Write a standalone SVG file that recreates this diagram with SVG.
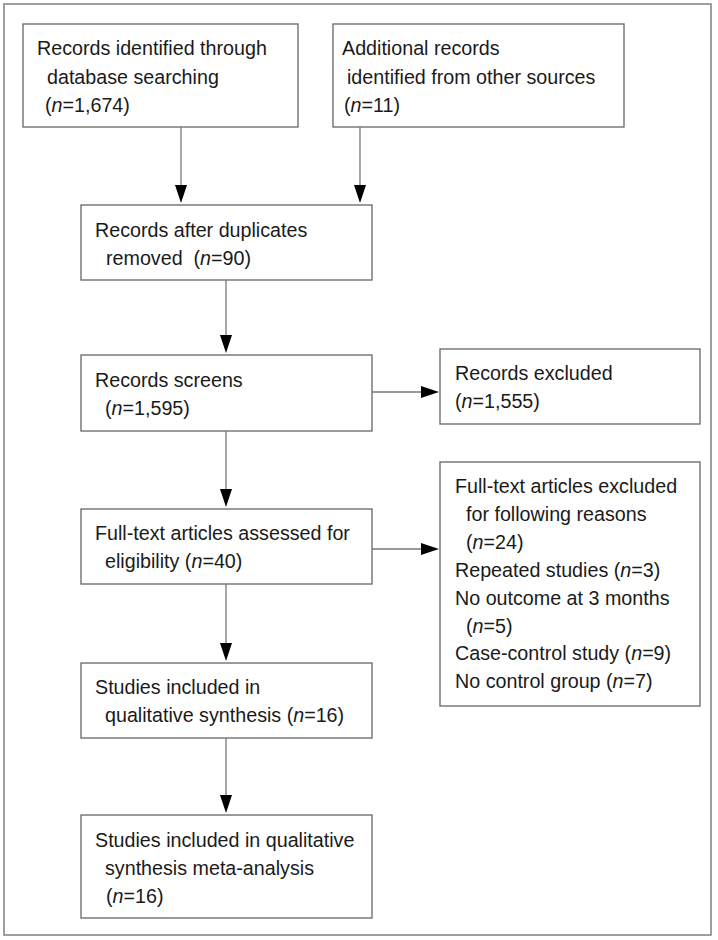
<svg xmlns="http://www.w3.org/2000/svg" width="718" height="940" viewBox="0 0 718 940">
<defs>
<style>
.frame{fill:#fff;stroke:#808080;stroke-width:1.5}
.box{fill:#fff;stroke:#666;stroke-width:1.3}
.t{font-family:"Liberation Sans",Arial,sans-serif;font-size:19.7px;fill:#1a1a1a}
.i{font-style:italic}
.c{stroke:#777;stroke-width:1.3;fill:none}
.ah{fill:#000}
</style>
</defs>
<rect x="4" y="4" width="707" height="931" class="frame"/>
<g id="n1">
<rect x="23" y="24" width="275" height="103" class="box"/>
<text class="t" x="37" y="55">Records identified through</text>
<text class="t" x="47" y="84">database searching</text>
<text class="t" x="45" y="112">(<tspan class="i">n</tspan>=1,674)</text>
</g>
<g id="n2">
<rect x="333" y="24" width="291" height="103" class="box"/>
<text class="t" x="342" y="55">Additional records</text>
<text class="t" x="347" y="84">identified from other sources</text>
<text class="t" x="344" y="112">(<tspan class="i">n</tspan>=11)</text>
</g>
<g id="n3">
<rect x="81" y="205" width="291" height="75" class="box"/>
<text class="t" x="95" y="237">Records after duplicates</text>
<text class="t" x="106" y="265">removed&#160; (<tspan class="i">n</tspan>=90)</text>
</g>
<g id="n4">
<rect x="81" y="355" width="291" height="76" class="box"/>
<text class="t" x="95" y="387">Records screens</text>
<text class="t" x="105" y="415">(<tspan class="i">n</tspan>=1,595)</text>
</g>
<g id="n5">
<rect x="440" y="349" width="260" height="75" class="box"/>
<text class="t" x="455" y="380">Records excluded</text>
<text class="t" x="455" y="408">(<tspan class="i">n</tspan>=1,555)</text>
</g>
<g id="n6">
<rect x="81" y="509" width="291" height="75" class="box"/>
<text class="t" x="95" y="540">Full-text articles assessed for</text>
<text class="t" x="105" y="568">eligibility (<tspan class="i">n</tspan>=40)</text>
</g>
<g id="n7">
<rect x="440" y="462" width="260" height="244" class="box"/>
<text class="t" x="455" y="493">Full-text articles excluded</text>
<text class="t" x="466" y="521">for following reasons</text>
<text class="t" x="466" y="549">(<tspan class="i">n</tspan>=24)</text>
<text class="t" x="455" y="577">Repeated studies (<tspan class="i">n</tspan>=3)</text>
<text class="t" x="455" y="605">No outcome at 3 months</text>
<text class="t" x="466" y="633">(<tspan class="i">n</tspan>=5)</text>
<text class="t" x="455" y="660">Case-control study (<tspan class="i">n</tspan>=9)</text>
<text class="t" x="455" y="688">No control group (<tspan class="i">n</tspan>=7)</text>
</g>
<g id="n8">
<rect x="81" y="663" width="291" height="75" class="box"/>
<text class="t" x="95" y="694">Studies included in</text>
<text class="t" x="105" y="722">qualitative synthesis (<tspan class="i">n</tspan>=16)</text>
</g>
<g id="n9">
<rect x="81" y="815" width="291" height="103" class="box"/>
<text class="t" x="95" y="847">Studies included in qualitative</text>
<text class="t" x="105" y="875">synthesis meta-analysis</text>
<text class="t" x="106" y="903">(<tspan class="i">n</tspan>=16)</text>
</g>
<g id="connectors">
<line x1="181" y1="127" x2="181" y2="188" class="c"/>
<polygon points="175,185 187,185 181,203" class="ah"/>
<line x1="360" y1="127" x2="360" y2="188" class="c"/>
<polygon points="354,185 366,185 360,203" class="ah"/>
<line x1="226" y1="280" x2="226" y2="338" class="c"/>
<polygon points="220,335 232,335 226,353" class="ah"/>
<line x1="226" y1="431" x2="226" y2="492" class="c"/>
<polygon points="220,489 232,489 226,507" class="ah"/>
<line x1="226" y1="584" x2="226" y2="646" class="c"/>
<polygon points="220,643 232,643 226,661" class="ah"/>
<line x1="226" y1="738" x2="226" y2="798" class="c"/>
<polygon points="220,795 232,795 226,813" class="ah"/>
<line x1="372" y1="392" x2="424" y2="392" class="c"/>
<polygon points="421,386 421,398 439,392" class="ah"/>
<line x1="372" y1="549" x2="424" y2="549" class="c"/>
<polygon points="421,543 421,555 439,549" class="ah"/>
</g>
</svg>
